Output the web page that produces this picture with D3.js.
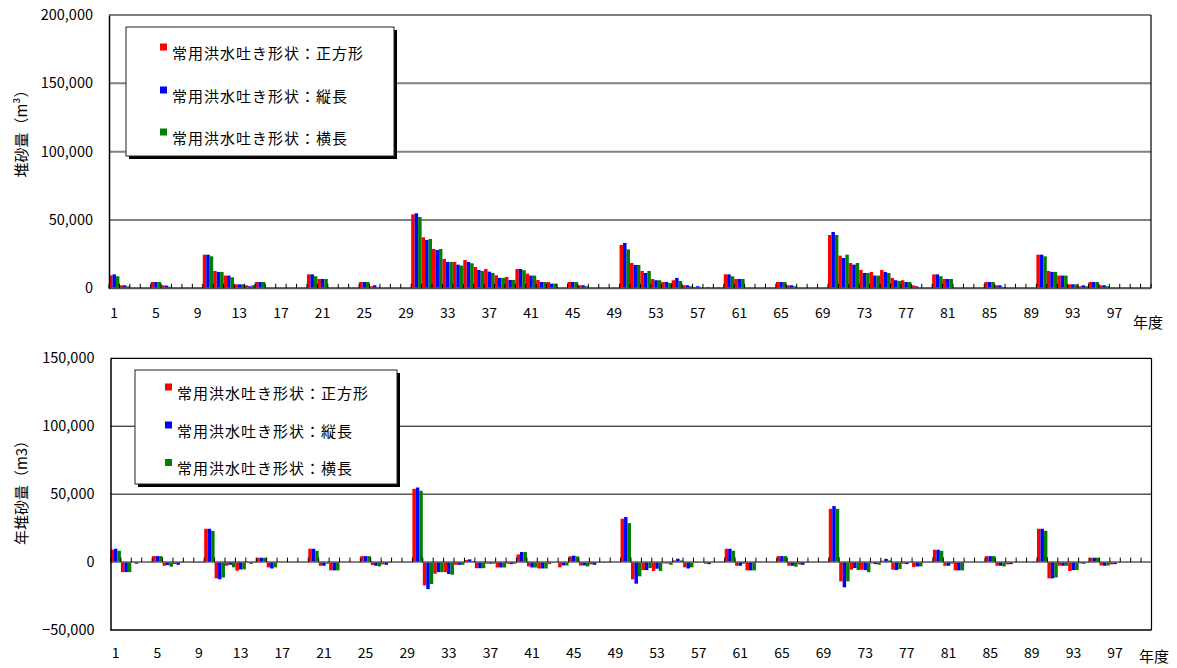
<!DOCTYPE html>
<html>
<head>
<meta charset="utf-8">
<script src="https://cdn.jsdelivr.net/npm/d3@7"></script>
<style>
  html, body { margin: 0; padding: 0; background: #fff; }
  svg text { font-family: "Noto Sans CJK JP", "Noto Sans", sans-serif; fill: #000; }
</style>
</head>
<body>
<svg id="chart" width="1177" height="668"></svg>
<script>
// 年度 (1〜100) and the labels shown under the category axis
const years = d3.range(1, 101);
const yearTickLabels = [1, 5, 9, 13, 17, 21, 25, 29, 33, 37, 41, 45, 49, 53, 57, 61, 65, 69, 73, 77, 81, 85, 89, 93, 97];

const seriesNames = ["常用洪水吐き形状：正方形", "常用洪水吐き形状：縦長", "常用洪水吐き形状：横長"];
const seriesColors = ["#ff0000", "#0000ff", "#008000"];

// 堆砂量 (m³) per year
const stockSquare = [
  9500, 2200, 600, 600, 4600, 2200, 600, 600, 600, 24600,
  12700, 9300, 2900, 2200, 4600, 600, 600, 600, 600, 10200,
  6800, 600, 600, 600, 4600, 1500, 600, 600, 600, 54100,
  37300, 28800, 21500, 19300, 20700, 15600, 14100, 9500, 8300, 14100,
  10700, 6100, 4600, 600, 4600, 2200, 600, 600, 600, 31700,
  18500, 12700, 6800, 4600, 5900, 2200, 1000, 500, 600, 10200,
  6800, 600, 600, 600, 4600, 2200, 600, 600, 600, 39000,
  23900, 18500, 13400, 12000, 13400, 7600, 5900, 2200, 600, 10200,
  6800, 600, 600, 600, 4600, 2200, 600, 600, 600, 24600,
  12700, 9300, 2900, 1500, 4600, 2200, 600, 600, 600, 600
];
const stockTall = [
  10200, 2200, 600, 600, 4600, 2000, 600, 600, 600, 24600,
  12000, 9300, 2900, 1500, 4600, 600, 600, 600, 600, 10200,
  6800, 600, 600, 600, 4600, 2200, 600, 600, 600, 54900,
  35400, 28000, 19300, 17300, 19300, 13400, 12200, 7600, 6100, 14100,
  9300, 4600, 3400, 600, 4600, 2200, 600, 600, 600, 33200,
  17100, 11200, 5900, 4600, 7600, 2200, 1500, 1000, 800, 10200,
  6800, 600, 600, 600, 4600, 2200, 600, 600, 600, 41200,
  22200, 17300, 11200, 9300, 12000, 5900, 4600, 1500, 600, 10200,
  6800, 600, 600, 600, 4600, 2200, 600, 600, 600, 24600,
  12000, 9300, 2900, 2200, 4600, 2200, 600, 600, 600, 600
];
const stockWide = [
  8800, 1500, 600, 600, 4600, 1200, 600, 600, 600, 23400,
  12000, 8000, 2900, 2200, 4600, 600, 600, 600, 600, 8800,
  6800, 600, 600, 600, 4600, 800, 600, 600, 600, 52200,
  36100, 28800, 19300, 16600, 18300, 12700, 11200, 7600, 6100, 13200,
  9300, 4600, 3400, 600, 4600, 1500, 600, 600, 600, 28500,
  17100, 12700, 5900, 3900, 5400, 1500, 700, 500, 600, 8800,
  6800, 600, 600, 600, 4600, 1500, 600, 600, 600, 39000,
  24600, 18500, 11200, 9300, 11200, 5400, 4600, 700, 600, 8800,
  6800, 600, 600, 600, 4600, 1000, 600, 600, 600, 23400,
  12000, 9300, 2900, 1500, 4600, 1500, 600, 600, 600, 600
];

// 年堆砂量 (m3) per year
const annualSquare = [
  9100, -7400, -300, -200, 4400, -2700, -1500, -300, -300, 24500,
  -12000, -2700, -6400, -500, 3200, -3900, -300, -300, -300, 9800,
  -2700, -6100, -300, -300, 4400, -2200, -1700, -300, -300, 53900,
  -17200, -8600, -7400, -2000, 1500, -4500, -1200, -4000, -1200, 5600,
  -3200, -4700, -1500, -3900, 4200, -2500, -1700, -500, -300, 31900,
  -12700, -5900, -6600, -1000, 1200, -3900, -500, -1200, -300, 9800,
  -2700, -6100, -300, -300, 4400, -2700, -1700, -300, -300, 39200,
  -14200, -5600, -5600, -1000, 1000, -5600, -1200, -3700, -500, 9100,
  -2700, -6100, -300, -300, 4400, -2700, -1700, -300, -300, 24500,
  -12000, -2700, -6600, -1000, 3200, -2500, -1700, -300, -300, -300
];
const annualTall = [
  9800, -7400, -1200, -200, 4400, -2200, -2000, -300, -500, 24500,
  -12700, -2000, -5400, -1200, 3200, -4700, -300, -300, -300, 9800,
  -2700, -6100, -300, -300, 4400, -2700, -2000, -300, -300, 54900,
  -19900, -7400, -8800, -2000, 2000, -4500, -1200, -4000, -1500, 7400,
  -4000, -4700, -500, -2500, 4700, -2500, -2000, -500, -300, 33100,
  -15900, -5900, -4900, -1000, 2500, -4700, -500, -1500, -300, 9800,
  -2700, -6100, -300, -300, 4400, -2700, -2000, -300, -300, 41200,
  -18600, -4400, -5900, -1500, 2400, -5900, -1500, -3200, -300, 9100,
  -2700, -6100, -300, -300, 4400, -2700, -1500, -300, -300, 24500,
  -12000, -2700, -5900, -1200, 3200, -2700, -1500, -300, -300, -300
];
const annualWide = [
  8300, -7400, -300, -200, 4400, -3400, -500, -300, -300, 23000,
  -11300, -3900, -5400, -500, 3200, -3900, -300, -300, -300, 8300,
  -1200, -6100, -300, -300, 4400, -3200, -500, -300, -300, 52500,
  -16200, -7400, -9300, -2000, 800, -4500, -1200, -4000, -1200, 7400,
  -4000, -4700, -300, -2500, 4200, -3200, -500, -500, -300, 28700,
  -10500, -4400, -6600, -2000, 1200, -3900, -300, -300, -300, 8300,
  -1200, -6100, -300, -300, 4400, -3400, -500, -300, -300, 39200,
  -14200, -5900, -7400, -2000, 1200, -5100, -500, -3200, -300, 8300,
  -1200, -6100, -300, -300, 4400, -3200, -300, -300, -300, 23000,
  -11300, -2700, -5900, -500, 3200, -2500, -500, -300, -300, -300
];

const topTicks = [0, 50000, 100000, 150000, 200000];
const bottomTicks = [-50000, 0, 50000, 100000, 150000];

const svg = d3.select("#chart");
const fmt = d => d3.format(",")(d).replace("-", "−");

function drawPanel(cfg) {
  const g = svg.append("g");
  const x = d3.scaleBand().domain(years).range([cfg.left, cfg.right]).padding(0);
  const xs = d3.scaleBand().domain(d3.range(cfg.series.length)).range([0, x.bandwidth()]).padding(0);
  const y = d3.scaleLinear().domain(cfg.domain).range([cfg.bottom, cfg.top]);

  // horizontal gridlines
  g.append("g").selectAll("line").data(cfg.ticks.filter(t => t !== cfg.domain[0] && t !== cfg.domain[1] && t !== 0))
    .join("line")
    .attr("x1", cfg.left).attr("x2", cfg.right)
    .attr("y1", d => y(d)).attr("y2", d => y(d))
    .attr("stroke", cfg.gridColor).attr("stroke-width", cfg.gridWidth);

  // bars
  const rows = [];
  years.forEach((yr, i) => cfg.series.forEach((s, k) => rows.push({ yr, k, v: s[i] })));
  g.append("g").selectAll("rect").data(rows).join("rect")
    .attr("x", d => x(d.yr) + xs(d.k))
    .attr("width", xs.bandwidth())
    .attr("y", d => y(Math.max(0, d.v)))
    .attr("height", d => Math.abs(y(d.v) - y(0)))
    .attr("fill", d => seriesColors[d.k]);

  // frame
  g.append("line").attr("x1", cfg.left).attr("x2", cfg.right).attr("y1", cfg.top).attr("y2", cfg.top)
    .attr("stroke", "#000").attr("stroke-width", 1.2);
  g.append("line").attr("x1", cfg.right).attr("x2", cfg.right).attr("y1", cfg.top).attr("y2", cfg.bottom)
    .attr("stroke", "#000").attr("stroke-width", 1.2);
  if (cfg.domain[0] < 0) {
    g.append("line").attr("x1", cfg.left).attr("x2", cfg.right).attr("y1", cfg.bottom).attr("y2", cfg.bottom)
      .attr("stroke", "#000").attr("stroke-width", 1.6);
  }

  // category axis at zero, with tick marks between categories
  const y0 = y(0);
  g.append("line").attr("x1", cfg.left).attr("x2", cfg.right).attr("y1", y0).attr("y2", y0)
    .attr("stroke", cfg.zeroColor).attr("stroke-width", cfg.zeroWidth);
  const bounds = years.map(d => x(d)).concat([cfg.right]);
  g.append("g").selectAll("line").data(bounds).join("line")
    .attr("x1", d => d).attr("x2", d => d)
    .attr("y1", y0 - 4.5).attr("y2", y0)
    .attr("stroke", "#000").attr("stroke-width", 1);

  // value axis
  const yAxis = d3.axisLeft(y).tickValues(cfg.ticks).tickSize(0).tickPadding(16).tickFormat(fmt);
  const ya = g.append("g").attr("transform", `translate(${cfg.left},0)`).call(yAxis);
  ya.select(".domain").attr("stroke", "#000").attr("stroke-width", 1.5);
  ya.selectAll("text").attr("font-size", 14.5).style("font-family", "\"Noto Sans CJK JP\", sans-serif");

  // year labels below the plot
  const xAxis = d3.axisBottom(x).tickValues(yearTickLabels).tickSize(0).tickPadding(cfg.labelGap);
  const xa = g.append("g").attr("transform", `translate(0,${cfg.bottom})`).call(xAxis);
  xa.select(".domain").remove();
  xa.selectAll("text").attr("font-size", 14).style("font-family", "\"Noto Sans CJK JP\", sans-serif");

  g.append("text").attr("x", cfg.unitX).attr("y", cfg.unitY).attr("font-size", 15)
    .attr("dominant-baseline", "central").text("年度");

  // value axis title
  g.append("text")
    .attr("transform", `translate(${cfg.titleX},${cfg.titleY}) rotate(-90)`)
    .attr("text-anchor", "middle").attr("dominant-baseline", "central")
    .attr("font-size", 15).text(cfg.title);

  // legend
  const L = cfg.legend;
  const lg = g.append("g");
  lg.append("rect").attr("x", L.x + 3).attr("y", L.y + 3).attr("width", L.w).attr("height", L.h).attr("fill", "#000");
  lg.append("rect").attr("x", L.x).attr("y", L.y).attr("width", L.w).attr("height", L.h)
    .attr("fill", "#fff").attr("stroke", "#222").attr("stroke-width", 1);
  const items = lg.selectAll("g.item").data(seriesNames).join("g").attr("class", "item")
    .attr("transform", (d, i) => `translate(0,${L.rows[i]})`);
  items.append("rect").attr("x", L.markX).attr("y", -8.5).attr("width", 7).attr("height", 7)
    .attr("fill", (d, i) => seriesColors[i]);
  items.append("text").attr("x", L.textX).attr("y", 0).attr("dominant-baseline", "central")
    .attr("font-size", 15).attr("letter-spacing", 1).text(d => d);
}

drawPanel({
  left: 109, right: 1151, top: 15, bottom: 288.3,
  domain: [0, 200000], ticks: topTicks,
  series: [stockSquare, stockTall, stockWide],
  gridColor: "#808080", gridWidth: 2, zeroColor: "#555", zeroWidth: 2,
  labelGap: 19.5, unitX: 1133, unitY: 321,
  title: "堆砂量（m³）", titleX: 20, titleY: 130,
  legend: { x: 126, y: 27, w: 268, h: 129, rows: [52, 95, 137], markX: 160, textX: 172 }
});

drawPanel({
  left: 110.5, right: 1151.5, top: 358.3, bottom: 630,
  domain: [-50000, 150000], ticks: bottomTicks,
  series: [annualSquare, annualTall, annualWide],
  gridColor: "#000", gridWidth: 1, zeroColor: "#666", zeroWidth: 1.5,
  labelGap: 18, unitX: 1139, unitY: 655,
  title: "年堆砂量（m3）", titleX: 20, titleY: 489,
  legend: { x: 135, y: 370, w: 262, h: 114, rows: [392, 430, 467.5], markX: 165, textX: 177 }
});
</script>
</body>
</html>
